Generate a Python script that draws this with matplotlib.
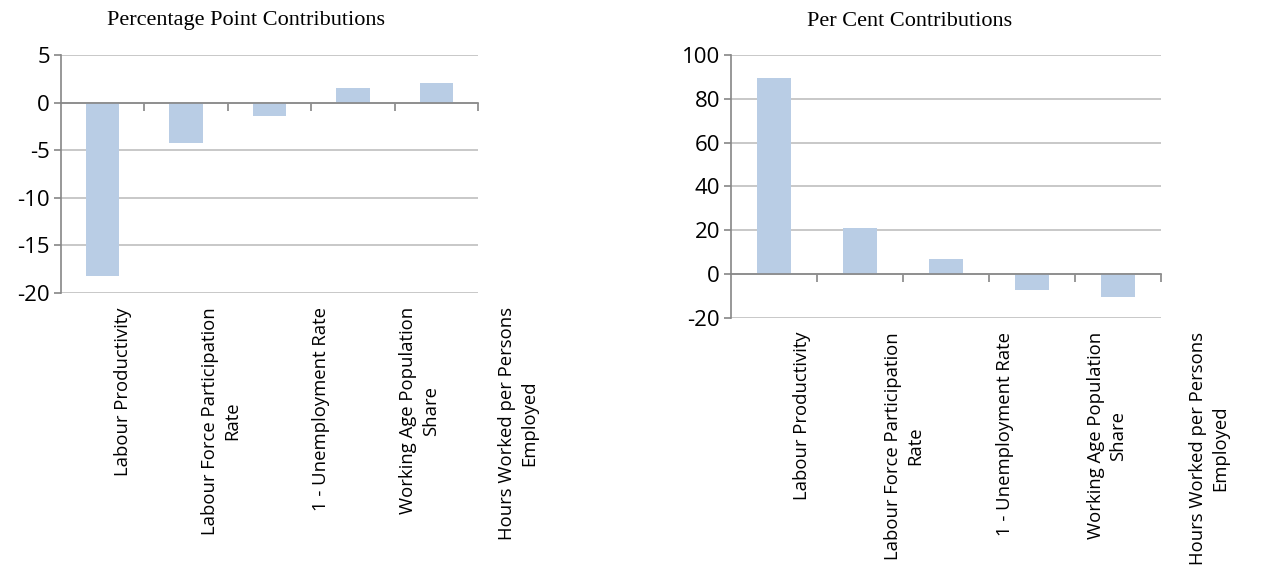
import matplotlib
matplotlib.use("Agg")
import matplotlib.pyplot as plt
import numpy as np

categories = ["Labour Productivity", "Labour Force Participation\nRate",
              "1 - Unemployment Rate", "Working Age Population\nShare",
              "Hours Worked per Persons\nEmployed"]
pp_values = [-18.2, -4.2, -1.4, 1.5, 2.1]
pc_values = [89.6, 20.9, 6.8, -7.1, -10.2]
pp_ticks = [5, 0, -5, -10, -15, -20]
pc_ticks = [100, 80, 60, 40, 20, 0, -20]

BAR = "#B9CDE5"
GRID = "#BFBFBF"
AXIS = "#868686"
TICKFONT = "Open Sans"

W, H = 1265, 565
fig = plt.figure(figsize=(W / 100, H / 100), dpi=100)


def make(ax_px, lab_px, values, ticks, title, title_x):
    l, r, t, b = ax_px
    ax = fig.add_axes([l / W, 1 - b / H, (r - l) / W, (b - t) / H])
    x = np.arange(len(values))
    ax.bar(x, values, width=0.4, color=BAR, zorder=3)
    ax.set_xlim(-0.5, len(values) - 0.5)
    ax.set_ylim(min(ticks), max(ticks))
    ax.set_yticks(ticks)
    ax.set_yticklabels([str(v) for v in ticks], fontsize=16, family=TICKFONT)
    ax.yaxis.grid(True, color=GRID, linewidth=1.2, zorder=0)
    for s in ["top", "right"]:
        ax.spines[s].set_visible(False)
    ax.spines["left"].set_color(AXIS)
    ax.spines["left"].set_linewidth(1.2)
    ax.spines["bottom"].set_position(("data", 0))
    ax.spines["bottom"].set_color(AXIS)
    ax.spines["bottom"].set_linewidth(1.2)
    ax.spines["bottom"].set_zorder(4)
    ax.tick_params(axis="y", colors=AXIS, length=5, width=1.2, labelcolor="black", pad=3)
    ax.set_xticks(x)
    ax.set_xticklabels([])
    ax.tick_params(axis="x", which="major", length=0)
    ax.set_xticks(np.arange(len(values)) + 0.5, minor=True)
    ax.tick_params(axis="x", which="minor", length=6, width=1.2, colors=AXIS, direction="out")

    # category label band (as laid out in the reference)
    ll, lr, lt = lab_px
    lax = fig.add_axes([ll / W, 0.0, (lr - ll) / W, 1 - lt / H])
    lax.set_xlim(-0.5, len(values) - 0.5)
    lax.set_ylim(0, 1)
    lax.axis("off")
    for xi, lab in zip(x, categories):
        lax.text(xi, 1.0, lab, rotation=90, ha="center", va="top", multialignment="center",
                 fontsize=13.3, family=TICKFONT, linespacing=1.3)

    fig.text(title_x / W, 1 - 21 / H, title, ha="center", va="center",
             fontsize=16, family="Liberation Serif")
    return ax


make((61, 478, 55, 293), (73, 568, 307), pp_values, pp_ticks,
     "Percentage Point Contributions", 246)
make((731, 1161, 55, 318), (751, 1260, 332), pc_values, pc_ticks,
     "Per Cent Contributions", 910)

fig.savefig("out.png", dpi=100)
